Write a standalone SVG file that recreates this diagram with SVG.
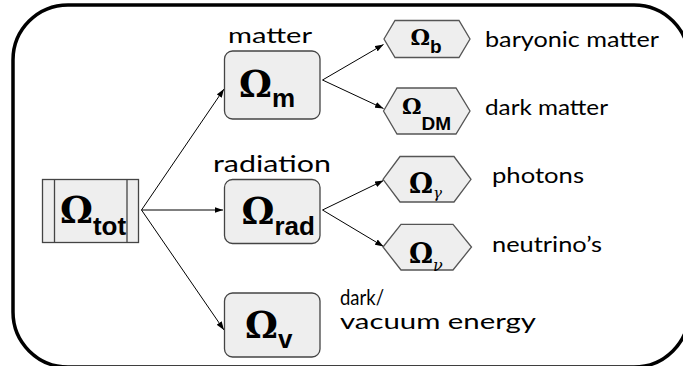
<svg xmlns="http://www.w3.org/2000/svg" width="683" height="366" viewBox="0 0 683 366">
<defs>
<marker id="ah" markerWidth="9" markerHeight="7" refX="8.5" refY="3.5" orient="auto" markerUnits="userSpaceOnUse">
<path d="M0,0.5 L8.5,3.5 L0,6.5 z" fill="#000"/>
</marker>
<style>
.box{fill:#eeeeee;stroke:#444;stroke-width:1.3}
.hex{fill:#eeeeee;stroke:#555;stroke-width:1.3}
.om{font-family:"DejaVu Serif","Liberation Serif",serif;font-weight:bold;fill:#000}
.sub{font-family:"Liberation Sans",Arial,sans-serif;font-weight:bold;fill:#000}
.gr{font-family:"DejaVu Serif","Liberation Serif",serif;font-style:italic;font-weight:normal;fill:#000}
.lbl{font-family:"Lato","Open Sans",sans-serif;fill:#000}
.conn line{stroke:#000;stroke-width:1;marker-end:url(#ah)}
</style>
</defs>
<rect x="13" y="5" width="676" height="362" rx="55" ry="55" fill="#fff" stroke="#000" stroke-width="3.5"/>
<g class="conn">
<line x1="141.5" y1="210" x2="224" y2="89"/>
<line x1="141.5" y1="210" x2="223" y2="210"/>
<line x1="141.5" y1="210" x2="224" y2="330"/>
<line x1="322.5" y1="80" x2="383.5" y2="44.5"/>
<line x1="322.5" y1="80" x2="383.5" y2="108.5"/>
<line x1="322.5" y1="210" x2="383.5" y2="180.5"/>
<line x1="322.5" y1="210" x2="383.5" y2="246.5"/>
</g>
<g id="tot">
<rect class="box" x="42.5" y="179.5" width="96" height="63"/>
<line x1="54.5" y1="179.5" x2="54.5" y2="242.5" stroke="#444" stroke-width="1.3"/>
<line x1="127" y1="179.5" x2="127" y2="242.5" stroke="#444" stroke-width="1.3"/>
<text x="60" y="223"><tspan class="om" font-size="37">Ω</tspan><tspan class="sub" font-size="26" dy="12">tot</tspan></text>
</g>
<g id="m">
<rect class="box" x="224.5" y="51" width="95.5" height="68" rx="8"/>
<text x="239" y="97"><tspan class="om" font-size="37">Ω</tspan><tspan class="sub" font-size="26" dy="10">m</tspan></text>
<text class="lbl" x="228" y="43" font-size="22" textLength="84" lengthAdjust="spacingAndGlyphs">matter</text>
</g>
<g id="rad">
<rect class="box" x="224.5" y="179.5" width="95.5" height="64" rx="8"/>
<text x="241.5" y="224"><tspan class="om" font-size="37">Ω</tspan><tspan class="sub" font-size="26" dy="11">rad</tspan></text>
<text class="lbl" x="213" y="172" font-size="23" textLength="118" lengthAdjust="spacingAndGlyphs">radiation</text>
</g>
<g id="v">
<rect class="box" x="224.5" y="293" width="95.5" height="64" rx="8"/>
<text x="245" y="338"><tspan class="om" font-size="37">Ω</tspan><tspan class="sub" font-size="26" dy="10">v</tspan></text>
<text class="lbl" x="340" y="305" font-size="21" textLength="44" lengthAdjust="spacingAndGlyphs">dark/</text>
<text class="lbl" x="340" y="329" font-size="21" textLength="196" lengthAdjust="spacingAndGlyphs">vacuum energy</text>
</g>
<g id="b">
<polygon class="hex" points="384,39 395,20.5 459,20.5 470,39 459,57.5 395,57.5"/>
<text x="410.5" y="45"><tspan class="om" font-size="22">Ω</tspan><tspan class="sub" font-size="19" dy="8">b</tspan></text>
<text class="lbl" x="485" y="47" font-size="22" textLength="174" lengthAdjust="spacingAndGlyphs">baryonic matter</text>
</g>
<g id="dm">
<polygon class="hex" points="383.5,111 397,88 456,88 470,111 456,134 397,134"/>
<text x="402" y="114"><tspan class="om" font-size="22">Ω</tspan><tspan class="sub" font-size="19" dy="16">DM</tspan></text>
<text class="lbl" x="485" y="115" font-size="22" textLength="123" lengthAdjust="spacingAndGlyphs">dark matter</text>
</g>
<g id="gamma">
<polygon class="hex" points="383,179.3 400,156.5 454,156.5 471,179.3 454,202 400,202"/>
<text x="409" y="193"><tspan class="om" font-size="27">Ω</tspan><tspan class="gr" font-size="15" dy="5">γ</tspan></text>
<text class="lbl" x="492" y="183" font-size="22" textLength="92" lengthAdjust="spacingAndGlyphs">photons</text>
</g>
<g id="nu">
<polygon class="hex" points="383,247 401,224.3 453,224.3 471.5,247 453,270 401,270"/>
<text x="409" y="263"><tspan class="om" font-size="27">Ω</tspan><tspan class="gr" font-size="16" dy="8">ν</tspan></text>
<text class="lbl" x="492" y="252" font-size="22" textLength="110" lengthAdjust="spacingAndGlyphs">neutrino’s</text>
</g>
</svg>
